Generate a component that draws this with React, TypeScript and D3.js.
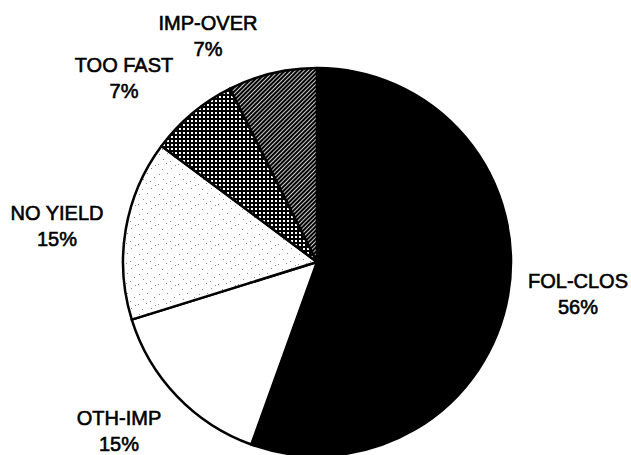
import React from "react";
import * as d3 from "d3";

const categories = ["FOL-CLOS", "OTH-IMP", "NO YIELD", "TOO FAST", "IMP-OVER"];
const values = [55.5, 14.7, 15.0, 7.4, 7.4];
const fills = ["#000", "#fff", "url(#stipple)", "url(#cross)", "url(#hatch)"];
const labelPos: [number, number][] = [
  [578, 288],
  [119, 425],
  [57, 220],
  [124, 72],
  [208, 30],
];

const W = 631;
const H = 455;
const cx = 317;
const cy = 262;
const R = 194;

const stippleDots: [number, number][] = [
  [1, 2], [9, 1], [5, 7], [14, 6], [2, 12], [10, 11], [17, 15], [6, 17], [18, 3], [13, 19],
];

export default function App() {
  const pie = d3.pie<number>().sort(null).value((d) => d);
  const arcs = pie(values);
  const arc = d3.arc<d3.PieArcDatum<number>>().innerRadius(0).outerRadius(R);
  return (
    <svg width={W} height={H} style={{ position: "absolute", left: 0, top: 0, display: "block", background: "#fff" }}>
      <defs>
        <pattern id="hatch" width={3} height={3} patternUnits="userSpaceOnUse" patternTransform="rotate(45)">
          <rect width={3} height={3} fill="#fff" />
          <rect width={2.2} height={3} fill="#000" />
        </pattern>
        <pattern id="cross" width={4} height={4} patternUnits="userSpaceOnUse">
          <rect width={4} height={4} fill="#000" shapeRendering="crispEdges" />
          <rect x={2} y={2} width={2} height={2} fill="#fff" shapeRendering="crispEdges" />
        </pattern>
        <pattern id="stipple" width={20} height={20} patternUnits="userSpaceOnUse">
          <rect width={20} height={20} fill="#fff" />
          {stippleDots.map(([x, y], i) => (
            <rect key={i} x={x} y={y} width={1} height={1} fill="#888" shapeRendering="crispEdges" />
          ))}
        </pattern>
      </defs>
      <g transform={`translate(${cx},${cy})`}>
        {arcs.map((a, i) => (
          <path key={i} d={arc(a) || ""} fill={fills[i]} stroke="#000" strokeWidth={2.5} strokeLinejoin="round" />
        ))}
      </g>
      <g fontFamily="'Liberation Sans', Arial, sans-serif" fontSize={20} fill="#000" textAnchor="middle" stroke="#000" strokeWidth={0.6}>
        {categories.map((c, i) => (
          <g key={c}>
            <text x={labelPos[i][0]} y={labelPos[i][1]}>{c}</text>
            <text x={labelPos[i][0]} y={labelPos[i][1] + 26}>{`${Math.round(values[i])}%`}</text>
          </g>
        ))}
      </g>
    </svg>
  );
}
